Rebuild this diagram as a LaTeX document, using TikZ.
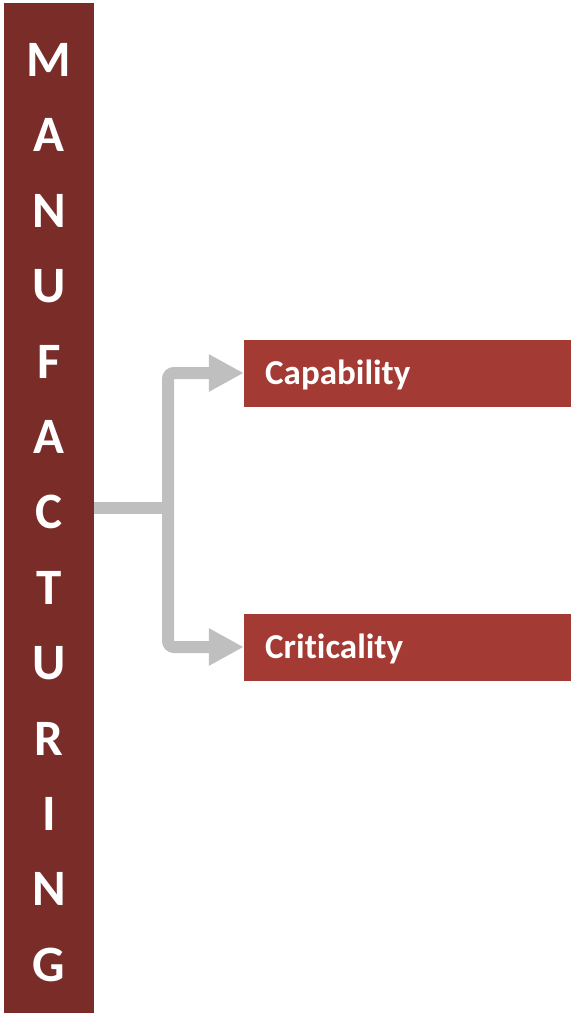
\documentclass[tikz,border=0pt]{standalone}
\usepackage{fontspec}
\setmainfont{Carlito}[Ligatures=NoCommon]
\usetikzlibrary{positioning, arrows.meta}
\definecolor{barred}{RGB}{122,44,40}
\definecolor{boxred}{RGB}{163,58,51}
\definecolor{conngray}{RGB}{191,191,191}

\begin{document}
\begin{tikzpicture}[x=1pt, y=-1pt,
        sidebar/.style={fill=barred, minimum width=90pt, minimum height=1010pt, inner sep=0pt},
        letter/.style={text=white, font=\fontsize{51}{51}\selectfont\bfseries},
        itembox/.style={fill=boxred, minimum width=327pt, minimum height=67pt, inner sep=0pt},
        itemtext/.style={anchor=west, text=white, inner sep=0pt, font=\fontsize{35}{35}\selectfont\bfseries},
        conn/.style={draw=conngray, line width=12pt}]
        \useasboundingbox (0,0) rectangle (571,1016); % page size

        % Vertical bar with the word spelled downwards
        \node[sidebar] (bar) at (49,508) {};
        \foreach \ch [count=\i] in {M,A,N,U,F,A,C,T,U,R,I,N,G}
            \node[letter] (l\i) at (49,{60+75.4*(\i-1)}) {\ch};

        % The two result boxes
        \node[itembox] (cap) at (407.5,373) {};
        \node[itemtext] (captext) at (265,375) {Capability};
        \node[itembox] (crit) at (407.5,647) {};
        \node[itemtext] (crittext) at (265,649) {Criticality};

        % Connector from the bar to both boxes
        \coordinate (junc) at (168,508);
        \draw[conn] (bar.east |- junc) -- (junc);
        \draw[conn, rounded corners=6pt, -{Triangle[length=35pt, width=35pt]}] (junc) |- (cap.west);
        \draw[conn, rounded corners=6pt, -{Triangle[length=35pt, width=35pt]}] (junc) |- (crit.west);
    \end{tikzpicture}
\end{document}
